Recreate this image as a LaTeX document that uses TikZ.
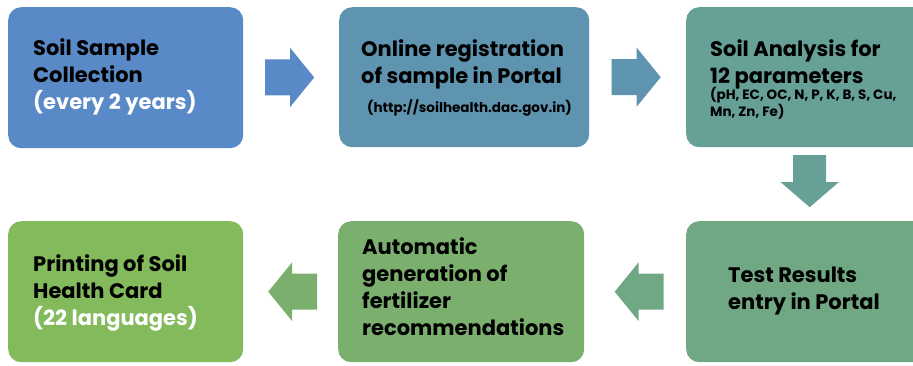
\documentclass[tikz,border=0pt]{standalone}
\usepackage{fontspec}
\setmainfont{Poppins}
\usetikzlibrary{calc}
\definecolor{c1}{RGB}{89,138,199}
\definecolor{c2}{RGB}{94,148,176}
\definecolor{c3}{RGB}{103,160,150}
\definecolor{c4}{RGB}{111,168,130}
\definecolor{c5}{RGB}{122,175,110}
\definecolor{c6}{RGB}{131,186,92}
\begin{document}
\begin{tikzpicture}[x=1pt,y=-1pt,
  box/.style={rounded corners=13pt, draw=none, anchor=north west, inner sep=0pt},
  lbl/.style={anchor=base west, align=left, inner sep=0pt, font=\bfseries\fontsize{21}{27}\selectfont, text=black},
  sml/.style={anchor=base west, align=left, inner sep=0pt, font=\bfseries\fontsize{13.5}{13.5}\selectfont, text=black},
  rarrow/.pic={\path[pic actions] (-24.5,-18) -- (0.5,-18) -- (0.5,-29.5) -- (24.5,0) -- (0.5,29.5) -- (0.5,18) -- (-24.5,18) -- cycle;},
  larrow/.pic={\path[pic actions] (24.5,-18) -- (-0.5,-18) -- (-0.5,-29.5) -- (-24.5,0) -- (-0.5,29.5) -- (-0.5,18) -- (24.5,18) -- cycle;},
  darrow/.pic={\path[pic actions] (-16.5,-26) -- (-16.5,1) -- (-29,1) -- (0,26) -- (29,1) -- (16.5,1) -- (16.5,-26) -- cycle;}]
\useasboundingbox (0,0) rectangle (913,365);
% boxes
\node[box, fill=c1, minimum width=235pt, minimum height=141pt] (b1) at (8,7) {};
\node[box, fill=c2, minimum width=250pt, minimum height=140pt] (b2) at (339,7) {};
\node[box, fill=c3, minimum width=240pt, minimum height=140pt] (b3) at (686,7) {};
\node[box, fill=c4, minimum width=240pt, minimum height=141pt] (b4) at (686,221) {};
\node[box, fill=c5, minimum width=246pt, minimum height=141pt] (b5) at (338,221) {};
\node[box, fill=c6, minimum width=235pt, minimum height=141pt] (b6) at (8,221) {};
% texts (anchored at the baseline of the last line)
\node[lbl] (t1) at (33,109) {Soil Sample\\Collection\\\textcolor{white}{(every 2 years)}};
\node[lbl] (t2) at (361,83) {Online registration\\of sample in Portal};
\node[sml] (u2) at (367,112) {(http://soilhealth.dac.gov.in)};
\node[lbl] (t3) at (710,83) {Soil Analysis for\\12 parameters};
\node[sml] (u3) at (710,116) {(pH, EC, OC, N, P, K, B, S, Cu,\\Mn, Zn, Fe)};
\node[lbl] (t4) at (728,309) {Test Results\\entry in Portal};
\node[lbl] (t5) at (362,335) {Automatic\\generation of\\fertilizer\\recommendations};
\node[lbl] (t6) at (33,325) {Printing of Soil\\Health Card\\\textcolor{white}{(22 languages)}};
% arrows
\pic[fill=c1] at ($(b1.east)!0.5!(b2.west)+(-1.5,0)$) {rarrow};
\pic[fill=c2] at ($(b2.east)!0.5!(b3.west)+(-1.5,0)$) {rarrow};
\pic[fill=c3] at ($(b3.south)!0.5!(b4.north)+(3.5,-3)$) {darrow};
\pic[fill=c4] at ($(b5.east)!0.5!(b4.west)+(4,0)$) {larrow};
\pic[fill=c5] at ($(b6.east)!0.5!(b5.west)+(2,0)$) {larrow};
\end{tikzpicture}
\end{document}
